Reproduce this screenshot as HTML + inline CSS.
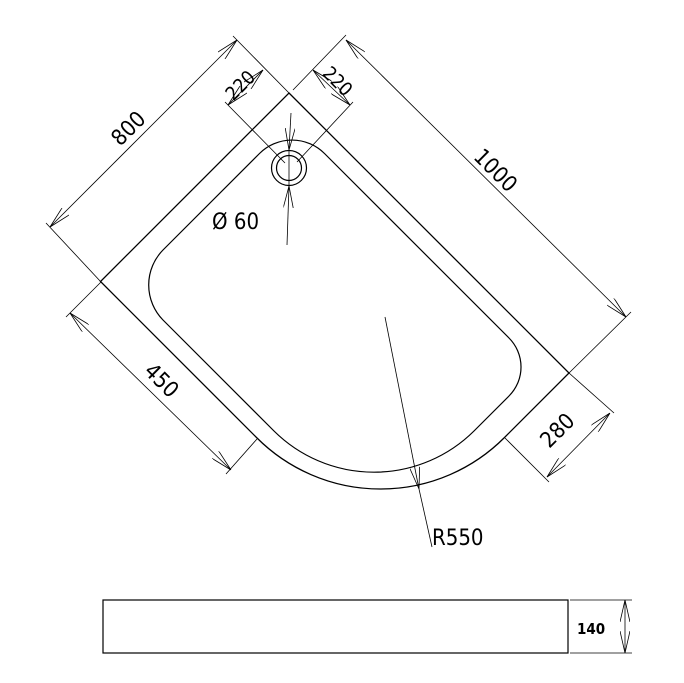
<!DOCTYPE html>
<html><head><meta charset="utf-8"><style>
html,body{margin:0;padding:0;background:#fff;}
svg{display:block;}
text{font-family:"DejaVu Sans Condensed","DejaVu Sans","Liberation Sans",sans-serif;fill:#000;}
</style></head><body>
<svg width="684" height="683" viewBox="0 0 684 683" xmlns="http://www.w3.org/2000/svg">
<defs>
<marker id="a" viewBox="0 0 22 10" refX="22" refY="5" markerWidth="22" markerHeight="10" markerUnits="userSpaceOnUse" orient="auto-start-reverse">
<path d="M0,0 L22,5 L0,10" fill="none" stroke="#000" stroke-width="0.8"/>
</marker>
</defs>
<g fill="none" stroke="#000">
<path d="M289,93 L569,373 L504.5,437.5 A175,175 0 0 1 256.5,437.5 L100.5,281.5 Z" stroke-width="1.3"/>
<path d="M259.5,153.5 A46,46 0 0 1 324.5,153.5 L509,338 A41,41 0 0 1 509,396 L474,431 A142,142 0 0 1 274,431 L163,320 A50,50 0 0 1 163,250 Z" stroke-width="1.2"/>
<circle cx="289" cy="168" r="17.5" stroke-width="1.2"/>
<circle cx="289" cy="168" r="12.5" stroke-width="1.2"/>
</g>
<g fill="none" stroke="#000" stroke-width="0.8">
<line x1="101" y1="282" x2="46" y2="223"/>
<line x1="289" y1="93" x2="233" y2="36"/>
<line x1="50" y1="227" x2="237" y2="40" marker-start="url(#a)" marker-end="url(#a)"/>
<line x1="285" y1="163" x2="225" y2="102"/>
<line x1="228" y1="105" x2="263" y2="70" marker-start="url(#a)" marker-end="url(#a)"/>
<line x1="297" y1="162" x2="353" y2="102"/>
<line x1="293" y1="90" x2="346" y2="35"/>
<line x1="313" y1="70" x2="350" y2="105" marker-start="url(#a)" marker-end="url(#a)"/>
<line x1="569" y1="373" x2="631" y2="312"/>
<line x1="346" y1="40" x2="626" y2="317" marker-start="url(#a)" marker-end="url(#a)"/>
<line x1="101" y1="282" x2="66" y2="317"/>
<line x1="257" y1="439" x2="226" y2="474"/>
<line x1="70" y1="313" x2="231" y2="470" marker-start="url(#a)" marker-end="url(#a)"/>
<line x1="569" y1="373" x2="614" y2="413"/>
<line x1="505" y1="438" x2="549" y2="482"/>
<line x1="547" y1="477" x2="610" y2="413" marker-start="url(#a)" marker-end="url(#a)"/>
<line x1="291" y1="113" x2="289" y2="150" marker-end="url(#a)"/>
<line x1="287" y1="245" x2="289" y2="186" marker-end="url(#a)"/>
<line x1="289" y1="150" x2="289" y2="186"/>
<line x1="385" y1="317" x2="419" y2="489" marker-end="url(#a)"/>
<line x1="419" y1="489" x2="432" y2="547"/>
<line x1="570" y1="600" x2="632" y2="600"/>
<line x1="570" y1="653" x2="632" y2="653"/>
<line x1="625" y1="600" x2="625" y2="653" marker-start="url(#a)" marker-end="url(#a)"/>
</g>
<rect x="103" y="600" width="465" height="53" fill="none" stroke="#000" stroke-width="1.2"/>
<text x="128" y="136" font-size="22" text-anchor="middle" transform="rotate(-45 128 128)">800</text>
<text x="240" y="92" font-size="19" text-anchor="middle" transform="rotate(-45 240 85)">220</text>
<text x="338" y="88" font-size="19" text-anchor="middle" transform="rotate(45 338 81)">220</text>
<text x="496" y="178" font-size="22" text-anchor="middle" transform="rotate(45 496 170)">1000</text>
<text x="162" y="388" font-size="22" text-anchor="middle" transform="rotate(45 162 380)">450</text>
<text x="557" y="438" font-size="22" text-anchor="middle" transform="rotate(-45 557 430)">280</text>
<text x="212" y="229" font-size="22">Ø 60</text>
<text x="432" y="545" font-size="22">R550</text>
<text x="577" y="634" font-size="15" font-weight="bold">140</text>
</svg>
</body></html>
